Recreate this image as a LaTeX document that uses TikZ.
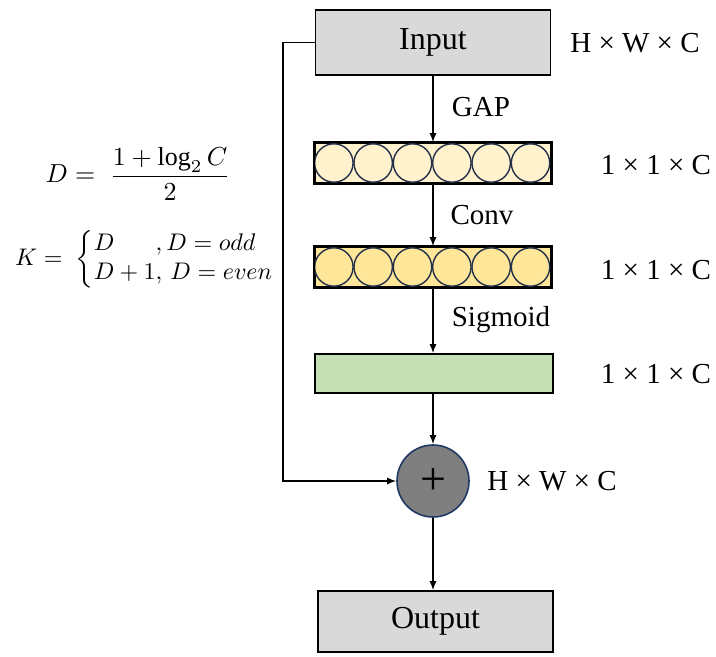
\documentclass[tikz,border=0pt]{standalone}
\usepackage{amsmath}
\usepackage{graphicx}
\usepackage{fontspec}
\setmainfont{Liberation Serif}
\usetikzlibrary{arrows.meta,calc}

\definecolor{boxgray}{HTML}{D9D9D9}
\definecolor{lightyel}{HTML}{FFF2CC}
\definecolor{deepyel}{HTML}{FFE699}
\definecolor{softgreen}{HTML}{C5E0B4}
\definecolor{addgray}{HTML}{7F7F7F}
\definecolor{navy}{HTML}{1F3864}
\definecolor{ringline}{HTML}{22304A}

\tikzset{
  blockbox/.style={draw=black, line width=1.6pt, inner sep=0pt,
    font=\fontsize{32}{38}\selectfont},
  barbox/.style={draw=black, line width=1.6pt, inner sep=0pt,
    minimum width=236pt, minimum height=40pt},
  cell/.style={draw=ringline, line width=1.4pt},
  lbl/.style={font=\fontsize{29}{34}\selectfont, inner sep=0pt},
  flow/.style={line width=1.4pt, -{Latex[length=9pt,width=7pt]}},
  eqn/.style={inner sep=0pt}
}

\begin{document}
\begin{tikzpicture}[x=1pt,y=-1pt]
\useasboundingbox (0,0) rectangle (716,657);

% main column
\node[blockbox, fill=boxgray, minimum width=235pt, minimum height=65pt] (in) at (433,42.5) {Input};
\node[barbox, fill=lightyel] (gap) at (433,163) {};
\node[barbox, fill=deepyel] (conv) at (433,267) {};
\node[barbox, fill=softgreen, minimum width=238pt, minimum height=39pt] (sig) at (434,373.5) {};
\node[circle, draw=navy, line width=1.6pt, fill=addgray, minimum size=72pt, inner sep=0pt,
      font=\fontsize{46}{50}\selectfont] (add) at (433,481) {+};
\node[blockbox, fill=boxgray, minimum width=235pt, minimum height=61pt] (out) at (435.5,621.5) {Output};

% channel cells inside the two vector bars
\foreach \b/\f in {gap/lightyel, conv/deepyel}{
  \foreach \i in {0,...,5}{
    \draw[cell, fill=\f] ($(\b.west)+(19.67+39.33*\i,0)$) circle (19.2pt);
  }
}
\draw[line width=1.6pt] (gap.south west) rectangle (gap.north east);
\draw[line width=1.6pt] (conv.south west) rectangle (conv.north east);

% connectors
\draw[flow] (in.south) -- (gap.north);
\draw[flow] (gap.south) -- (conv.north);
\draw[flow] (conv.south) -- (conv.south |- sig.north);
\draw[flow] (conv.south |- sig.south) -- (add.north);
\draw[flow] (add.south) -- (add.south |- out.north);
\coordinate (skip) at (283,42.5);
\draw[flow] (in.west) -- (skip) |- (add.west);

% step labels
\node[lbl] (lgap) at (481,107) {GAP};
\node[lbl] (lconv) at (482,215) {Conv};
\node[lbl] (lsig) at (501,320) {Sigmoid};

% shape labels
\node[lbl] (sin) at (635,43) {H × W × C};
\node[lbl] (s1) at (656,165) {1 × 1 × C};
\node[lbl] (s2) at (656,270) {1 × 1 × C};
\node[lbl] (s3) at (656,374) {1 × 1 × C};
\node[lbl] (sadd) at (552,481) {H × W × C};

% kernel size formulas
\node[eqn] (deq) at (138,174) {\scalebox{2.6}{$D = \;\dfrac{1+\log_2 C}{2}$}};
\node[eqn] (keq) at (145,259) {\scalebox{2.4}{$K = \;\left\{\begin{array}{@{}l@{}l@{}}
  D & ,D = odd\\
  D+1 & ,\,D = even
\end{array}\right.$}};

\end{tikzpicture}
\end{document}
